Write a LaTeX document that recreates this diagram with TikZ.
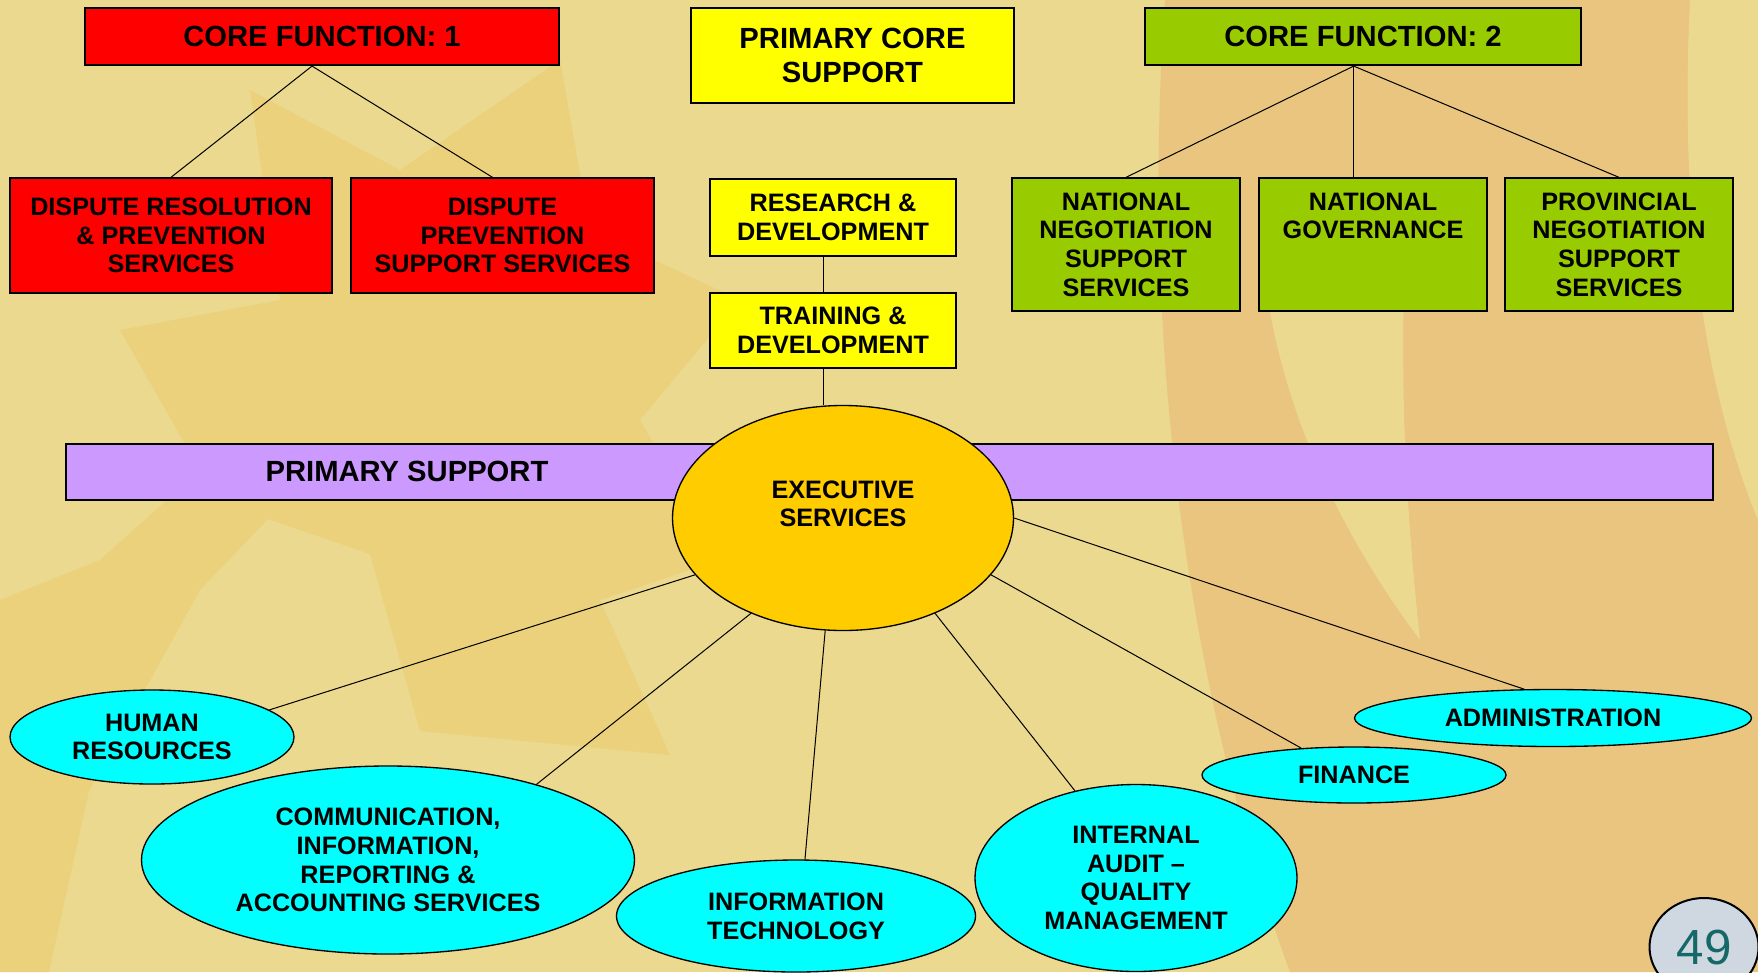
\documentclass[tikz,border=0pt]{standalone}
\usepackage{fontspec}
\setmainfont{Liberation Sans}
\usetikzlibrary{shapes.geometric}

\definecolor{bgtan}{RGB}{234,217,142}
\definecolor{bgorange}{RGB}{233,197,128}
\definecolor{bgstar}{RGB}{236,209,125}
\definecolor{boxred}{RGB}{255,0,0}
\definecolor{boxyellow}{RGB}{255,255,0}
\definecolor{boxgreen}{RGB}{153,204,0}
\definecolor{barlilac}{RGB}{204,153,255}
\definecolor{execgold}{RGB}{255,204,0}
\definecolor{unitcyan}{RGB}{0,255,255}
\definecolor{pagegrey}{RGB}{207,216,224}
\definecolor{pageteal}{RGB}{22,104,104}

\newcommand{\headfont}{\fontsize{21.9pt}{25.2pt}\selectfont\bfseries}
\newcommand{\unitfont}{\fontsize{18.9pt}{21.5pt}\selectfont\bfseries}

\tikzset{every picture/.style={line width=0.75pt}}
\tikzset{
	sz/.style 2 args={minimum width=#1*0.75pt, minimum height=#2*0.75pt},
	headbox/.style={draw=black, line width=1.6pt, align=center, inner sep=0pt, font=\headfont},
	unitbox/.style={draw=black, line width=1pt, align=center, inner sep=0pt, font=\unitfont},
	unitoval/.style={ellipse, draw=black, line width=1pt, fill=unitcyan, align=center, inner sep=0pt, font=\unitfont},
	link/.style={draw=black, line width=0.75pt}
}

\begin{document}
\begin{tikzpicture}[x=0.75pt,y=0.75pt,yscale=-1,xscale=1]
	\path[use as bounding box] (0,0) rectangle (1758,972);

	% background
	\fill[bgtan] (0,0) rectangle (1758,972);
	\fill[bgorange] (1165,0) .. controls (1140,350) and (1190,700) .. (1290,972) -- (1758,972) -- (1758,0) -- cycle;
	\fill[bgtan] (1690,0) .. controls (1680,200) and (1700,380) .. (1758,520) -- (1758,0) -- cycle;
	\fill[bgtan] (1262,250) .. controls (1275,420) and (1360,560) .. (1420,640) .. controls (1405,500) and (1400,380) .. (1405,250) -- cycle;
	\fill[bgstar] (250,90) -- (400,170) -- (560,60) -- (590,230) -- (740,300) -- (640,420) -- (720,560) -- (600,600) -- (670,755) -- (420,731) -- (370,554) -- (268,519) -- (200,590) -- (89,791) -- (49,972) -- (0,972) -- (0,600) -- (100,560) -- (200,470) -- (120,330) -- (280,300) -- cycle;

	% core function 1
	\node[headbox, fill=boxred, sz={474}{57}] (cfone) at (322,36.5) {CORE FUNCTION: 1};
	\node[unitbox, fill=boxred, sz={322}{115}] (dr) at (171,235.5) {DISPUTE RESOLUTION\\\& PREVENTION\\SERVICES};
	\node[unitbox, fill=boxred, sz={303}{115}] (dp) at (502.5,235.5) {DISPUTE\\PREVENTION\\SUPPORT SERVICES};

	% primary core support
	\node[headbox, fill=boxyellow, sz={323}{95}] (pcs) at (852.5,55.5) {PRIMARY CORE\\SUPPORT};
	\node[unitbox, fill=boxyellow, sz={246}{77}] (rd) at (833,217.5) {RESEARCH \&\\DEVELOPMENT};
	\node[unitbox, fill=boxyellow, sz={246}{75}] (td) at (833,330.5) {TRAINING \&\\DEVELOPMENT};

	% core function 2
	\node[headbox, fill=boxgreen, sz={436}{57}] (cftwo) at (1363,36.5) {CORE FUNCTION: 2};
	\node[unitbox, fill=boxgreen, sz={228}{133}] (nn) at (1126,244.5) {NATIONAL\\NEGOTIATION\\SUPPORT\\SERVICES};
	\node[unitbox, fill=boxgreen, sz={228}{133}] (ng) at (1373,244.5) {NATIONAL\\GOVERNANCE\\~\\~};
	\node[unitbox, fill=boxgreen, sz={228}{133}] (pn) at (1619,244.5) {PROVINCIAL\\NEGOTIATION\\SUPPORT\\SERVICES};

	% primary support
	\node[draw=black, line width=1.6pt, fill=barlilac, sz={1647}{56}] (ps) at (889.5,472) {};
	\node[font=\headfont] (pslabel) at (407,471) {PRIMARY SUPPORT};
	\node[ellipse, draw=black, line width=1pt, fill=execgold, align=center, inner sep=0pt, font=\unitfont, sz={341}{225}] (exec) at (843,518) {EXECUTIVE\\SERVICES\\~};

	\node[unitoval, sz={284}{94}] (hr) at (152,737) {HUMAN\\RESOURCES};
	\node[unitoval, sz={493}{188}] (comm) at (388,860) {COMMUNICATION,\\INFORMATION,\\REPORTING \&\\ACCOUNTING SERVICES};
	\node[unitoval, sz={359}{112}] (it) at (796,916) {INFORMATION\\TECHNOLOGY};
	\node[unitoval, sz={322}{187}] (ia) at (1136,878) {INTERNAL\\AUDIT --\\QUALITY\\MANAGEMENT};
	\node[unitoval, sz={304}{56}] (fin) at (1354,775) {FINANCE};
	\node[unitoval, sz={397}{57}] (adm) at (1553,718) {ADMINISTRATION};

	% page number
	\node[ellipse, draw=black, line width=1.5pt, fill=pagegrey, text=pageteal, inner sep=0pt, font=\fontsize{37pt}{37pt}\selectfont, sz={109}{98}] (pg) at (1704,947) {49};

	% connectors
	\draw[link] ([xshift=-7.5pt]cfone.south) -- (dr.north);
	\draw[link] ([xshift=-7.5pt]cfone.south) -- ([xshift=-7.5pt]dp.north);
	\draw[link] ([xshift=-7pt]cftwo.south) -- (nn.north);
	\draw[link] ([xshift=-7pt]cftwo.south) -- ([xshift=-7pt]cftwo.south |- ng.north);
	\draw[link] ([xshift=-7pt]cftwo.south) -- (pn.north);
	\draw[link] ([xshift=-7pt]rd.south) -- ([xshift=-7pt]td.north);
	\draw[link] ([xshift=-7pt]td.south) -- ([xshift=-7pt]td.south |- exec.north);
	\draw[link] (exec.201) -- (hr.13);
	\draw[link] (exec.226) -- (comm.27);
	\draw[link] (exec.261) -- (it.81);
	\draw[link] (exec.314) -- (ia.125);
	\draw[link] (exec.339) -- (fin.153);
	\draw[link] (exec.0) -- (adm.135);

\end{tikzpicture}
\end{document}
